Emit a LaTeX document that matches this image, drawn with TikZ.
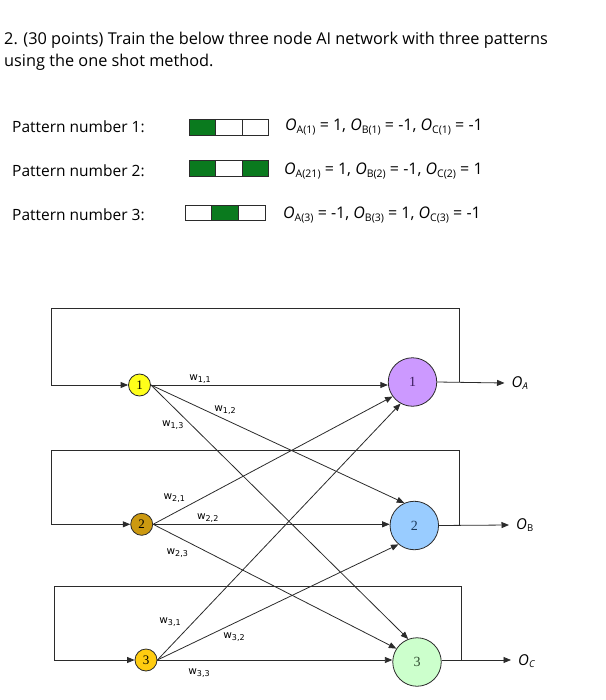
\documentclass[tikz,border=0pt]{standalone}
\usepackage{fontspec}
\setmainfont{Open Sans}
\newfontfamily\lblfont{DejaVu Sans}
\newfontfamily\numfont{Liberation Serif}
\usetikzlibrary{arrows.meta}
\definecolor{ln}{HTML}{2B2B2B}
\definecolor{pgreen}{HTML}{0A7A1E}
\definecolor{cin1}{HTML}{FFFF1A}
\definecolor{cin2}{HTML}{CC9910}
\definecolor{cin3}{HTML}{FFCC10}
\definecolor{cout1}{HTML}{CC99FF}
\definecolor{cout2}{HTML}{99CCFF}
\definecolor{cout3}{HTML}{CCFFCC}
\definecolor{tout1}{HTML}{3A1C5C}
\definecolor{tout2}{HTML}{1C3A5C}
\definecolor{tout3}{HTML}{2E4A2E}
\newcommand\wlab[1]{w\raisebox{-2pt}{\fontsize{8}{8}\selectfont #1}}
\newcommand\osub[1]{\textit{O}\raisebox{-2.5pt}{\fontsize{10.5}{11}\selectfont #1}}
\begin{document}
\begin{tikzpicture}[x=1pt,y=-1pt,
  txt/.style={anchor=west,inner sep=0pt,font=\fontsize{14.5}{16}\selectfont},
  inp/.style={circle,draw=ln,line width=0.8pt,minimum size=22pt,inner sep=0pt,font=\numfont\fontsize{13}{13}\selectfont},
  outp/.style={circle,draw=ln,line width=0.8pt,minimum size=48.5pt,inner sep=0pt,font=\numfont\fontsize{14}{14}\selectfont},
  wl/.style={inner sep=0pt,font=\lblfont\fontsize{10.5}{11}\selectfont},
  conn/.style={draw=ln,line width=0.8pt},
  arr/.style={conn,-{Triangle[length=7.5pt,width=6pt]}},
  cell/.style={draw=ln,line width=0.8pt}]
\useasboundingbox (0,0) rectangle (605,700);
% title
\node[txt,font=\fontsize{16.3}{18}\selectfont] (t1) at (4,40) {2. (30 points) Train the below three node AI network with three patterns};
\node[txt,font=\fontsize{16.3}{18}\selectfont] (t2) at (4,62) {using the one shot method.};
% patterns
\node[txt,font=\fontsize{15.5}{17}\selectfont] (p1) at (12,127) {Pattern number 1:};
\node[txt,font=\fontsize{15.5}{17}\selectfont] (p2) at (12,171) {Pattern number 2:};
\node[txt,font=\fontsize{15.5}{17}\selectfont] (p3) at (12,215) {Pattern number 3:};
\foreach \x/\c in {0/pgreen,1/white,2/white}
  \draw[cell,fill=\c] (189+26.6*\x,119.3) rectangle (189+26.6*\x+26.6,135);
\foreach \x/\c in {0/pgreen,1/white,2/pgreen}
  \draw[cell,fill=\c] (189+26.6*\x,160.7) rectangle (189+26.6*\x+26.6,176);
\foreach \x/\c in {0/white,1/pgreen,2/white}
  \draw[cell,fill=\c] (185+26.7*\x,205.7) rectangle (185+26.7*\x+26.7,220.7);
\node[txt,font=\fontsize{16}{17}\selectfont] (o1) at (285,127) {\osub{A(1)} = 1, \osub{B(1)} = -1, \osub{C(1)} = -1};
\node[txt,font=\fontsize{16}{17}\selectfont] (o2) at (284,171) {\osub{A(21)} = 1, \osub{B(2)} = -1, \osub{C(2)} = 1};
\node[txt,font=\fontsize{16}{17}\selectfont] (o3) at (283,215) {\osub{A(3)} = -1, \osub{B(3)} = 1, \osub{C(3)} = -1};
% network nodes
\node[inp,fill=cin1] (in1) at (139.5,385) {1};
\node[inp,fill=cin2] (in2) at (141.7,524.3) {2};
\node[inp,fill=cin3] (in3) at (146,660) {3};
\node[outp,fill=cout1,text=tout1] (out1) at (412.5,382) {1};
\node[outp,fill=cout2,text=tout2] (out2) at (414.3,525.5) {2};
\node[outp,fill=cout3,text=tout3] (out3) at (417,662) {3};
% output labels
\node[txt,font=\fontsize{15}{15}\selectfont] (oa) at (511.5,383) {\textit{O}\raisebox{-2.5pt}{\fontsize{9.5}{10}\selectfont\textit{A}}};
\node[txt,font=\fontsize{15}{15}\selectfont] (ob) at (516,525) {\textit{O}\raisebox{-2.5pt}{\fontsize{9.5}{10}\selectfont B}};
\node[txt,font=\fontsize{15}{15}\selectfont] (oc) at (518,661) {\textit{O}\raisebox{-2.5pt}{\fontsize{9.5}{10}\selectfont\textit{C}}};
% junctions and loop corners
\coordinate (j1) at (459,382);
\coordinate (j2) at (459,525.5);
\coordinate (j3) at (461.7,660);
\coordinate (c1) at (51,308);
\coordinate (c2) at (51,450.7);
\coordinate (c3) at (54,586.7);
% outputs
\draw[arr] (out1.east) -- ([xshift=-7pt]oa.west);
\draw[arr] (out2.east) -- ([xshift=-7pt]ob.west);
\draw[arr] (out3.east |- j3) -- ([xshift=-7pt]oc.west |- j3);
% feedback loops
\draw[arr] (j1) |- (c1) |- (in1.west);
\draw[arr] (j2) |- (c2) |- (in2.west);
\draw[arr] (j3) |- (c3) |- (in3.west);
% weights
\draw[arr] (in1.east) -- (in1.east -| out1.west);
\draw[arr] (in1.east) -- (out2.114);
\draw[arr] (in1.east) -- (out3.111);
\draw[arr] (in2.east) -- (out1.216);
\draw[arr] (in2.east) -- (in2.east -| out2.west);
\draw[arr] (in2.east) -- (out3.147);
\draw[arr] (in3.east) -- (out1.241);
\draw[arr] (in3.east) -- (out2.230);
\draw[arr] (in3.east) -- (in3.east -| out3.west);
% weight labels
\node[wl] (w11) at (200,379) {\wlab{1,1}};
\node[wl] (w12) at (225,410) {\wlab{1,2}};
\node[wl] (w13) at (172.7,425) {\wlab{1,3}};
\node[wl] (w21) at (174.3,497.7) {\wlab{2,1}};
\node[wl] (w22) at (207.7,518.3) {\wlab{2,2}};
\node[wl] (w23) at (177.3,552.7) {\wlab{2,3}};
\node[wl] (w31) at (170,621.7) {\wlab{3,1}};
\node[wl] (w32) at (234,637) {\wlab{3,2}};
\node[wl] (w33) at (199,673.3) {\wlab{3,3}};
\end{tikzpicture}
\end{document}
